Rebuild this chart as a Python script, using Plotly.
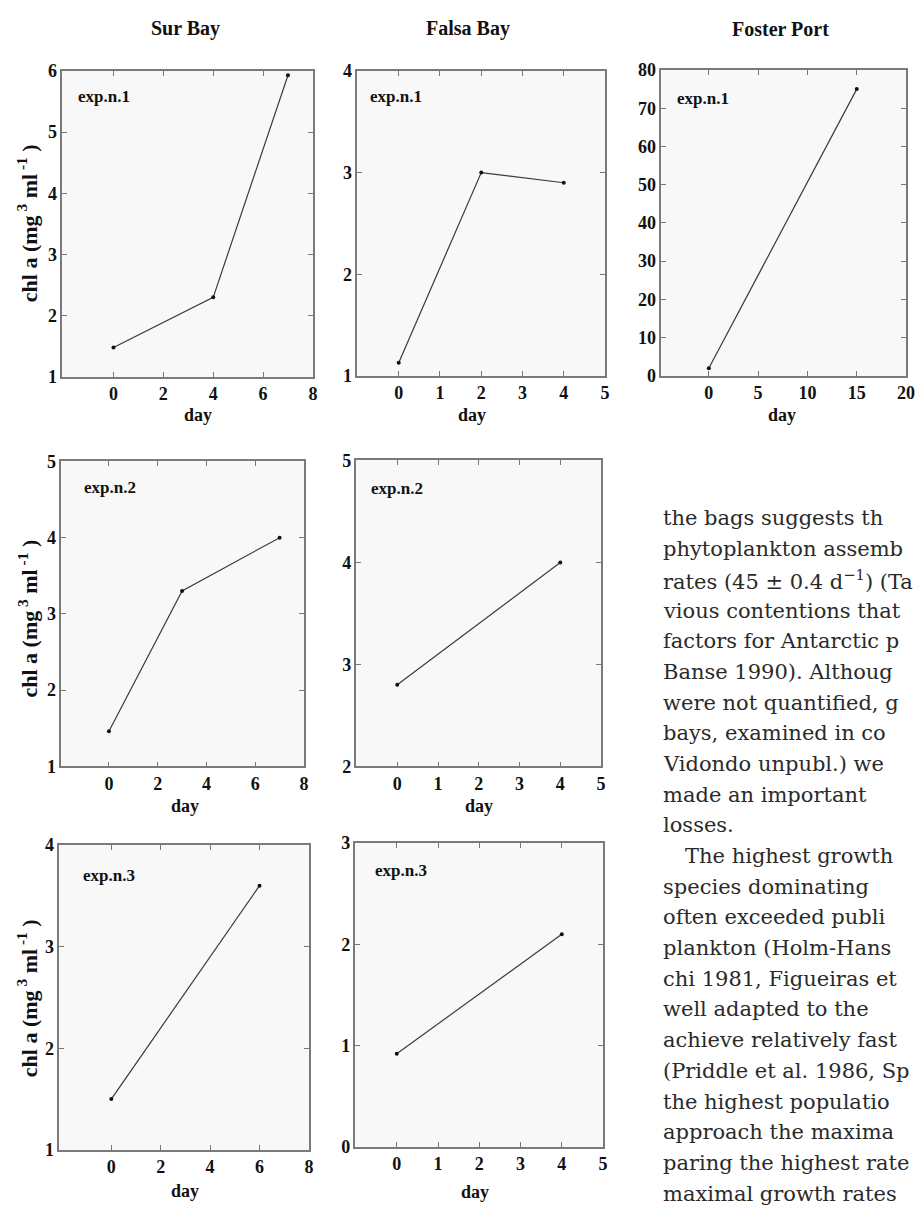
import plotly.graph_objects as go

# ---------------- data ----------------
sur_days_1 = [0, 4, 7]
sur_chl_1 = [1.48, 2.30, 5.93]
falsa_days_1 = [0, 2, 4]
falsa_chl_1 = [1.13, 3.00, 2.90]
foster_days_1 = [0, 15]
foster_chl_1 = [2.0, 75.0]
sur_days_2 = [0, 3, 7]
sur_chl_2 = [1.46, 3.30, 4.00]
falsa_days_2 = [0, 4]
falsa_chl_2 = [2.80, 4.00]
sur_days_3 = [0, 6]
sur_chl_3 = [1.50, 3.60]
falsa_days_3 = [0, 4]
falsa_chl_3 = [0.92, 2.10]

column_titles = ["Sur Bay", "Falsa Bay", "Foster Port"]
exp_labels = ["exp.n.1", "exp.n.1", "exp.n.1", "exp.n.2", "exp.n.2", "exp.n.3", "exp.n.3"]
x_ticks_sur = [0, 2, 4, 6, 8]
x_ticks_falsa = [0, 1, 2, 3, 4, 5]
x_ticks_foster = [0, 5, 10, 15, 20]
y_ticks_p1 = [1, 2, 3, 4, 5, 6]
y_ticks_p2 = [1, 2, 3, 4]
y_ticks_p3 = [0, 10, 20, 30, 40, 50, 60, 70, 80]
y_ticks_p4 = [1, 2, 3, 4, 5]
y_ticks_p5 = [2, 3, 4, 5]
y_ticks_p6 = [1, 2, 3, 4]
y_ticks_p7 = [0, 1, 2, 3]

text_lines = [
    "the bags suggests th",
    "phytoplankton assemb",
    "rates (45 ± 0.4 d<sup>−1</sup>) (Ta",
    "vious contentions that",
    "factors for Antarctic p",
    "Banse 1990). Althoug",
    "were not quantified, g",
    "bays, examined in co",
    "Vidondo unpubl.) we",
    "made an important",
    "losses.",
    "The highest growth",
    "species dominating",
    "often exceeded publi",
    "plankton (Holm-Hans",
    "chi 1981, Figueiras et",
    "well adapted to the",
    "achieve relatively fast",
    "(Priddle et al. 1986, Sp",
    "the highest populatio",
    "approach the maxima",
    "paring the highest rate",
    "maximal growth rates",
]

# ---------------- layout geometry ----------------
W, H = 921, 1213
SERIF = "Liberation Serif, Times New Roman, serif"

panels = [
    # (days, chl, box px (l, r, t, b), xrange, yrange, xticks, yticks, label pos (x, y))
    (sur_days_1, sur_chl_1, (63, 316, 62, 373), [-2.05, 8.0], [1, 6], x_ticks_sur, y_ticks_p1, (77, 88)),
    (falsa_days_1, falsa_chl_1, (361, 611, 62, 372), [-1, 5], [1, 4], x_ticks_falsa, y_ticks_p2, (372, 88)),
    (foster_days_1, foster_chl_1, (668, 915, 61, 372), [-4.8, 20], [0, 80], x_ticks_foster, y_ticks_p3, (682, 90)),
    (sur_days_2, sur_chl_2, (62, 307, 459, 769), [-1.95, 8.0], [1, 5], x_ticks_sur, y_ticks_p4, (83, 486)),
    (falsa_days_2, falsa_chl_2, (360, 607, 458, 769), [-1, 5], [2, 5], x_ticks_falsa, y_ticks_p5, (373, 487)),
    (sur_days_3, sur_chl_3, (60, 312, 849, 1159), [-2.1, 8.0], [1, 4], x_ticks_sur, y_ticks_p6, (82, 880)),
    (falsa_days_3, falsa_chl_3, (359, 609, 847, 1156), [-1, 5], [0, 3], x_ticks_falsa, y_ticks_p7, (377, 875)),
]

fig = go.Figure()
layout = dict(
    width=W, height=H, margin=dict(l=0, r=0, t=0, b=0),
    paper_bgcolor="white", plot_bgcolor="#f8f8f8", showlegend=False,
)
annotations = []

axis_common = dict(
    showline=True, linecolor="#7a7a7a", linewidth=1.5, mirror="ticks",
    ticks="inside", ticklen=5, tickwidth=1, tickcolor="#777",
    showgrid=False, zeroline=False, fixedrange=True,
    tickfont=dict(family=SERIF, size=18, color="#111"),
)


def bold_labels(vals):
    return ["<b>%s</b>" % v for v in vals]


for i, (xs, ys, box, xr, yr, xt, yt, lab) in enumerate(panels):
    n = "" if i == 0 else str(i + 1)
    l, r, t, b = box
    xa = dict(axis_common, domain=[l / W, r / W], range=xr, tickvals=xt,
              ticktext=bold_labels(xt), anchor="y" + n)
    ya = dict(axis_common, domain=[1 - b / H, 1 - t / H], range=yr, tickvals=yt,
              ticktext=bold_labels(yt), anchor="x" + n)
    layout["xaxis" + n] = xa
    layout["yaxis" + n] = ya
    fig.add_trace(go.Scatter(
        x=xs, y=ys, mode="lines+markers", xaxis="x" + n, yaxis="y" + n,
        line=dict(color="#3a3a3a", width=1.2),
        marker=dict(color="#111", size=4), cliponaxis=False,
    ))
    annotations.append(dict(
        text="<b>%s</b>" % exp_labels[i], x=lab[0] / W, y=1 - lab[1] / H,
        xref="paper", yref="paper", xanchor="left", yanchor="middle",
        showarrow=False, font=dict(family=SERIF, size=17, color="#111"),
    ))

# column titles
for title, cx in zip(column_titles, [187, 473, 788]):
    annotations.append(dict(
        text="<b>%s</b>" % title, x=cx / W, y=1 - 19 / H, xref="paper", yref="paper",
        xanchor="center", yanchor="middle", showarrow=False,
        font=dict(family=SERIF, size=20, color="#111"),
    ))

# "day" labels
for cx, cy in [(200, 412), (477, 412), (790, 412), (187, 809), (484, 809), (187, 1201), (480, 1202)]:
    annotations.append(dict(
        text="<b>day</b>", x=cx / W, y=1 - cy / H, xref="paper", yref="paper",
        xanchor="center", yanchor="middle", showarrow=False,
        font=dict(family=SERIF, size=18, color="#111"),
    ))

# y-axis titles
for cy in [217, 619, 1005]:
    annotations.append(dict(
        text="<b>chl a (mg<sup> 3</sup> ml<sup> -1</sup> )</b>", x=28 / W, y=1 - cy / H,
        xref="paper", yref="paper", xanchor="center", yanchor="middle",
        textangle=-90, showarrow=False,
        font=dict(family=SERIF, size=22, color="#111"),
    ))

# body text on the right
for k, line in enumerate(text_lines):
    x0 = 690 if line.startswith("The highest") else 668
    annotations.append(dict(
        text=line, x=x0 / W, y=1 - (517 + k * 31.2) / H, xref="paper", yref="paper",
        xanchor="left", yanchor="middle", showarrow=False,
        font=dict(family="DejaVu Serif", size=21, color="#2a2a2a"),
    ))

layout["annotations"] = annotations
fig.update_layout(**layout)
fig.write_html("out.html")
